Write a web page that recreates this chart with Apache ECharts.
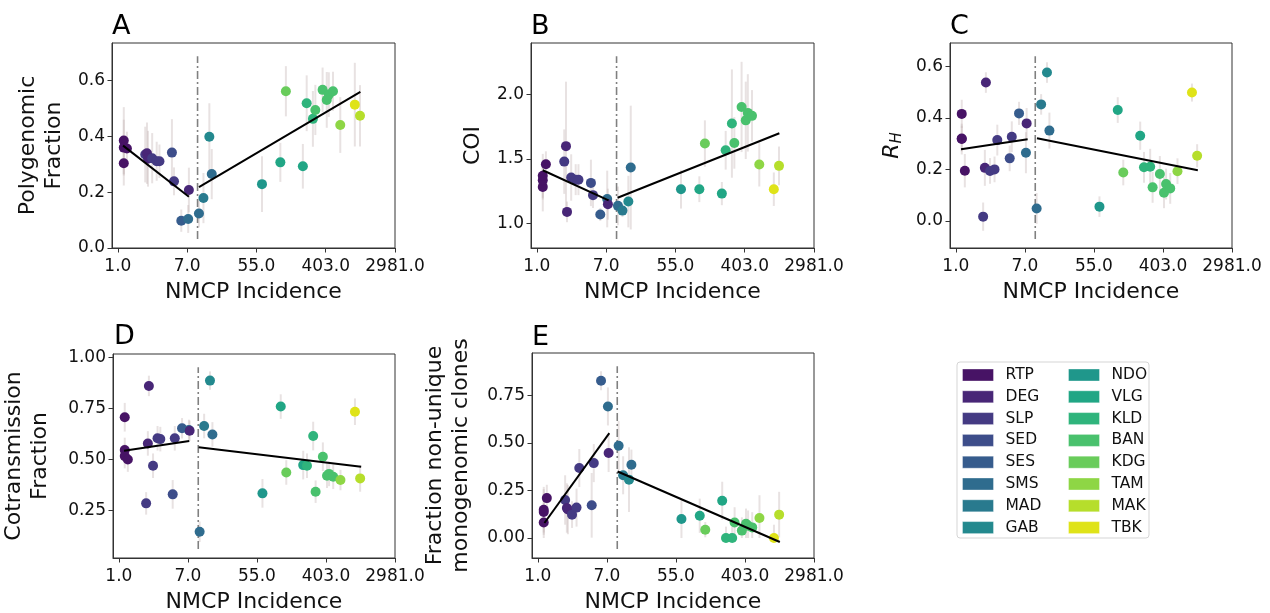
<!DOCTYPE html>
<html>
<head>
<meta charset="utf-8">
<script src="https://cdn.jsdelivr.net/npm/echarts@6/dist/echarts.min.js"></script>
<style>html,body{margin:0;padding:0;background:#fff}#c{width:1270px;height:613px}</style>
</head>
<body>
<div id="c"></div>
<script>
// ---------- data ----------
const sites = ['RTP','DEG','SLP','SED','SES','SMS','MAD','GAB','NDO','VLG','KLD','BAN','KDG','TAM','MAK','TBK'];
const siteColors = ['#471365','#482677','#443a83','#3d4d8a','#365c8d','#2f6c8e','#297a8e','#23898e','#1f978b','#21a685','#2fb47c','#49c16d','#69cc5b','#8ed645','#b6de2b','#dfe318'];

// ln(NMCP incidence) of each sample (x position)
const logIncidence = [0.17,0.17,0.17,0.26,0.79,0.84,0.87,0.99,1.12,1.20,1.56,1.62,1.83,2.03,2.05,2.34,2.47,2.64,2.71,4.16,4.69,4.85,5.34,5.45,5.63,5.70,5.91,6.03,6.09,6.21,6.42,6.84,6.99];
// site index of each sample
const pointSite = [0,0,0,0,2,1,1,2,2,2,3,2,4,5,1,5,6,7,5,8,9,12,9,10,10,11,11,11,11,11,13,15,14];

const cutoffLogIncidence = 2.30;

const xTickValues = [0,2,4,6,8];
const xTickLabels = ['1.0','7.0','55.0','403.0','2981.0'];

// A: polygenomic fraction
const polyFraction    = [0.385,0.304,0.36,0.357,0.335,0.34,0.32,0.322,0.311,0.311,0.342,0.239,0.098,0.104,0.208,0.124,0.179,0.399,0.265,0.229,0.307,0.562,0.293,0.519,0.463,0.495,0.567,0.531,0.55,0.562,0.441,0.514,0.474];
const polyFractionErr = [0.12,0.08,0.1,0.06,0.1,0.11,0.1,0.09,0.07,0.06,0.12,0.05,0.04,0.05,0.08,0.05,0.09,0.12,0.09,0.1,0.07,0.09,0.08,0.1,0.1,0.09,0.08,0.1,0.08,0.07,0.1,0.15,0.11];
const polyFractionFit = [[[0.15,0.367],[2.05,0.184]],[[2.34,0.218],[7.0,0.56]]];
const polyFractionTicks = [0,0.2,0.4,0.6];
const polyFractionTickLabels = ['0.0','0.2','0.4','0.6'];

// B: COI
const coi    = [1.284,1.336,1.37,1.46,1.48,1.60,1.09,1.357,1.34,1.34,1.315,1.22,1.07,1.19,1.15,1.137,1.10,1.17,1.434,1.266,1.266,1.62,1.232,1.568,1.775,1.625,1.904,1.80,1.858,1.835,1.457,1.266,1.447];
const coiErr = [0.19,0.15,0.17,0.1,0.25,0.5,0.08,0.18,0.12,0.12,0.18,0.1,0.05,0.22,0.12,0.15,0.05,0.2,0.48,0.15,0.1,0.18,0.09,0.15,0.42,0.2,0.35,0.3,0.3,0.2,0.17,0.13,0.15];
const coiFit = [[[0.17,1.413],[2.07,1.18]],[[2.33,1.20],[7.0,1.70]]];
const coiTicks = [1.0,1.5,2.0];
const coiTickLabels = ['1.0','1.5','2.0'];

// C: R_H
const rh    = [0.416,0.318,0.32,0.195,0.016,0.206,0.538,0.194,0.20,0.314,0.243,0.327,0.418,0.265,0.379,0.048,0.453,0.577,0.351,0.055,0.431,0.188,0.331,0.208,0.21,0.13,0.182,0.109,0.143,0.126,0.193,0.499,0.253];
const rhErr = [0.055,0.06,0.05,0.065,0.055,0.07,0.04,0.05,0.05,0.06,0.05,0.06,0.045,0.08,0.06,0.06,0.04,0.04,0.07,0.04,0.05,0.05,0.055,0.06,0.07,0.06,0.07,0.06,0.06,0.06,0.05,0.035,0.045];
const rhFit = [[[0.15,0.278],[2.08,0.317]],[[2.35,0.321],[7.01,0.197]]];
const rhTicks = [0,0.2,0.4,0.6];
const rhTickLabels = ['0.0','0.2','0.4','0.6'];

// D: cotransmission fraction
const cotransmission    = [0.707,0.547,0.517,0.50,0.286,0.579,0.86,0.47,0.604,0.60,0.33,0.604,0.653,0.645,0.641,0.147,0.664,0.886,0.623,0.335,0.759,0.437,0.473,0.47,0.615,0.343,0.514,0.421,0.43,0.416,0.40,0.734,0.408];
const cotransmissionErr = [0.07,0.06,0.06,0.06,0.055,0.06,0.05,0.06,0.06,0.06,0.07,0.06,0.05,0.05,0.05,0.05,0.06,0.045,0.06,0.07,0.06,0.06,0.07,0.06,0.07,0.055,0.07,0.06,0.06,0.06,0.05,0.065,0.065];
const cotransmissionFit = [[[0.15,0.543],[2.04,0.591]],[[2.31,0.56],[7.02,0.465]]];
const cotransmissionTicks = [0.25,0.5,0.75,1.0];
const cotransmissionTickLabels = ['0.25','0.50','0.75','1.00'];

// E: fraction non-unique monogenomic clones
const nonUnique    = [0.082,0.149,0.137,0.21,0.20,0.158,0.15,0.123,0.16,0.368,0.172,0.394,0.827,0.692,0.447,0.485,0.33,0.307,0.385,0.10,0.117,0.044,0.196,0.0,0.0,0.082,0.039,0.075,0.065,0.056,0.105,0.0,0.123];
const nonUniqueErr = [0.1,0.12,0.12,0.07,0.13,0.13,0.13,0.07,0.1,0.1,0.17,0.1,0.05,0.1,0.1,0.13,0.1,0.17,0.08,0.1,0.09,0.04,0.1,0.06,0.06,0.08,0.07,0.08,0.08,0.08,0.12,0.07,0.12];
const nonUniqueFit = [[[0.19,0.079],[2.07,0.552]],[[2.31,0.35],[7.01,-0.021]]];
const nonUniqueTicks = [0,0.25,0.5,0.75];
const nonUniqueTickLabels = ['0.00','0.25','0.50','0.75'];

// ---------- layout ----------
const panels = [
  {letter:'A', left:112, top:43,  width:283, height:205, ymin:0,      ymax:0.735, name:'Polygenomic\nFraction', nameGap:45, y:polyFraction, err:polyFractionErr, fit:polyFractionFit, ticks:polyFractionTicks, labels:polyFractionTickLabels, floor:true, lx:112, ly:13},
  {letter:'B', left:531, top:43,  width:283, height:205, ymin:0.81,   ymax:2.40,  name:'COI', nameGap:45, y:coi, err:coiErr, fit:coiFit, ticks:coiTicks, labels:coiTickLabels, floor:false, lx:531, ly:13},
  {letter:'C', left:950, top:43,  width:282, height:205, ymin:-0.106, ymax:0.692, name:'{r|R}{s|H}', nameGap:45, y:rh, err:rhErr, fit:rhFit, ticks:rhTicks, labels:rhTickLabels, floor:false, lx:950, ly:13},
  {letter:'D', left:113, top:354, width:282, height:204, ymin:0.019,  ymax:1.016, name:'Cotransmission\nFraction', nameGap:60, y:cotransmission, err:cotransmissionErr, fit:cotransmissionFit, ticks:cotransmissionTicks, labels:cotransmissionTickLabels, floor:true, lx:114, ly:323},
  {letter:'E', left:532, top:353, width:282, height:205, ymin:-0.105, ymax:0.973, name:'Fraction non-unique\nmonogenomic clones', nameGap:58, y:nonUnique, err:nonUniqueErr, fit:nonUniqueFit, ticks:nonUniqueTicks, labels:nonUniqueTickLabels, floor:true, lx:532, ly:324}
];

const TXT = '#111';
const AX = '#333';
const fmt = (vals, labels) => v => { const k = vals.findIndex(t => Math.abs(t - v) < 1e-9); return k >= 0 ? labels[k] : ''; };

const grid = [], xAxis = [], yAxis = [], series = [], title = [];
panels.forEach((p, i) => {
  grid.push({left:p.left, top:p.top, width:p.width, height:p.height, show:true, borderColor:AX, borderWidth:1, backgroundColor:'transparent', containLabel:false, outerBoundsMode:'none'});
  title.push({text:p.letter, left:p.lx, top:p.ly, padding:0, textStyle:{fontSize:27, fontWeight:'normal', color:'#000', fontFamily:'DejaVu Sans'}});
  xAxis.push({
    gridIndex:i, type:'value', min:-0.17, max:8.0,
    axisLine:{show:true, onZero:false, lineStyle:{color:AX, width:1}},
    axisTick:{show:true, length:4.5, customValues:xTickValues, lineStyle:{color:AX, width:1}},
    axisLabel:{customValues:xTickValues, formatter:fmt(xTickValues, xTickLabels), fontSize:17, color:TXT, margin:10, fontFamily:'DejaVu Sans'},
    splitLine:{show:false},
    name:'NMCP Incidence', nameLocation:'middle', nameGap:33,
    nameTextStyle:{fontSize:22, color:TXT, fontFamily:'DejaVu Sans'}
  });
  yAxis.push({
    gridIndex:i, type:'value', min:p.ymin, max:p.ymax,
    axisLine:{show:true, onZero:false, lineStyle:{color:AX, width:1}},
    axisTick:{show:true, length:4.5, customValues:p.ticks, lineStyle:{color:AX, width:1}},
    axisLabel:{customValues:p.ticks, formatter:fmt(p.ticks, p.labels), fontSize:17, color:TXT, margin:7, fontFamily:'DejaVu Sans'},
    splitLine:{show:false},
    name:p.name, nameLocation:'middle', nameGap:p.nameGap, nameRotate:90,
    nameTextStyle:{fontSize:22, lineHeight:26, color:TXT, fontFamily:'DejaVu Sans',
      rich:{r:{fontSize:22, fontStyle:'italic', lineHeight:26, verticalAlign:'middle', color:TXT, fontFamily:'DejaVu Sans'},
            s:{fontSize:15, fontStyle:'italic', lineHeight:13, verticalAlign:'bottom', color:TXT, fontFamily:'DejaVu Sans'}}}
  });
  // error bars
  series.push({
    type:'custom', xAxisIndex:i, yAxisIndex:i, silent:true, z:1,
    data: logIncidence.map((x, k) => [x, p.floor ? Math.max(0, p.y[k] - p.err[k]) : p.y[k] - p.err[k], p.y[k] + p.err[k]]),
    renderItem: (params, api) => {
      const a = api.coord([api.value(0), api.value(1)]);
      const b = api.coord([api.value(0), api.value(2)]);
      return {type:'line', shape:{x1:a[0], y1:a[1], x2:b[0], y2:b[1]}, style:{stroke:'rgba(195,180,180,0.38)', lineWidth:2}};
    }
  });
  // cutoff line
  const r = p.ymax - p.ymin;
  series.push({
    type:'line', xAxisIndex:i, yAxisIndex:i, silent:true, z:2, symbol:'none',
    data:[[cutoffLogIncidence, p.ymin + 0.044 * r], [cutoffLogIncidence, p.ymin + 0.935 * r]],
    lineStyle:{color:'#808080', width:1.6, type:[8,3,2,3]}
  });
  // points
  series.push({
    type:'scatter', xAxisIndex:i, yAxisIndex:i, z:3, symbolSize:10,
    itemStyle:{opacity:1},
    data: logIncidence.map((x, k) => ({value:[x, p.y[k]], itemStyle:{color:siteColors[pointSite[k]], opacity:1}}))
  });
  // fit segments
  p.fit.forEach(seg => series.push({
    type:'line', xAxisIndex:i, yAxisIndex:i, z:4, symbol:'none', silent:true,
    data:seg, lineStyle:{color:'#000', width:2}
  }));
});

// legend-only series
sites.forEach((s, k) => series.push({type:'scatter', name:s, xAxisIndex:0, yAxisIndex:0, data:[], itemStyle:{color:siteColors[k], opacity:1}}));

const legendCommon = {orient:'vertical', icon:'rect', itemWidth:31, itemHeight:12, itemGap:5.8, padding:0, selectedMode:false,
  itemStyle:{opacity:1, borderColor:'rgba(255,255,255,0.35)', borderWidth:1},
  textStyle:{fontSize:15.5, lineHeight:12, color:TXT, fontFamily:'DejaVu Sans', padding:[0,0,0,7]}};

const option = {
  animation:false,
  backgroundColor:'#fff',
  textStyle:{fontFamily:'DejaVu Sans'},
  title, grid, xAxis, yAxis, series,
  legend:[
    Object.assign({}, legendCommon, {data:sites.slice(0,8), left:962, top:367}),
    Object.assign({}, legendCommon, {data:sites.slice(8), left:1068, top:367})
  ],
  graphic:[{type:'rect', shape:{x:957, y:362, width:192, height:176, r:3}, style:{fill:'none', stroke:'#d5d5d5', lineWidth:1}}]
};

const chart = echarts.init(document.getElementById('c'), null, {renderer:'canvas'});
chart.setOption(option);
</script>
</body>
</html>
